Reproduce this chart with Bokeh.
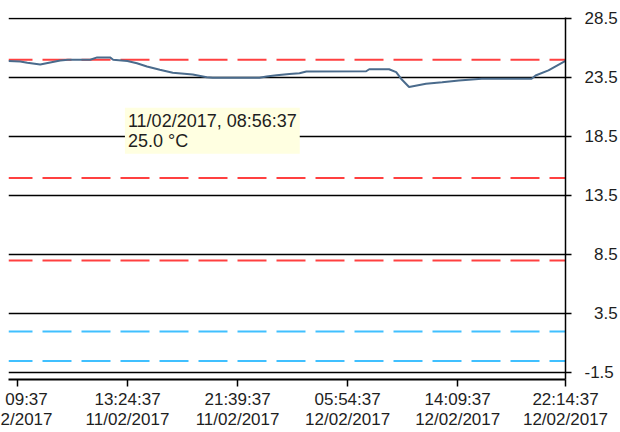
import pandas as pd
from bokeh.plotting import figure
from bokeh.models import (Range1d, FixedTicker, DatetimeTickFormatter, Span, Label)
from bokeh.embed import file_html
from bokeh.resources import INLINE

# ---- data ----
times = [
    "2017-02-11 04:29:19", "2017-02-11 05:22:00", "2017-02-11 05:54:00", "2017-02-11 06:52:00",
    "2017-02-11 07:37:00", "2017-02-11 08:22:00", "2017-02-11 08:56:37", "2017-02-11 10:37:00",
    "2017-02-11 11:08:00", "2017-02-11 12:06:00", "2017-02-11 12:20:00", "2017-02-11 13:24:00",
    "2017-02-11 14:07:00", "2017-02-11 14:52:00", "2017-02-11 15:50:00", "2017-02-11 16:48:00",
    "2017-02-11 18:18:00", "2017-02-11 19:21:00", "2017-02-11 19:48:00", "2017-02-11 23:18:00",
    "2017-02-11 23:50:00", "2017-02-12 00:35:00", "2017-02-12 01:33:00", "2017-02-12 02:18:00",
    "2017-02-12 02:49:00", "2017-02-12 07:18:00", "2017-02-12 07:32:00", "2017-02-12 09:01:00",
    "2017-02-12 09:33:00", "2017-02-12 09:55:00", "2017-02-12 10:31:00", "2017-02-12 11:47:00",
    "2017-02-12 13:00:00", "2017-02-12 14:15:00", "2017-02-12 15:58:00", "2017-02-12 19:42:00",
    "2017-02-12 20:00:00", "2017-02-12 20:58:00", "2017-02-12 22:14:37",
]
temps = [
    24.9, 24.85, 24.74, 24.6,
    24.77, 24.94, 25.0, 25.0,
    25.2, 25.2, 25.0, 24.9,
    24.7, 24.43, 24.15, 23.9,
    23.75, 23.53, 23.47, 23.47,
    23.58, 23.7, 23.8, 23.86,
    24.0, 24.03, 24.2, 24.2,
    23.95, 23.4, 22.7, 22.97,
    23.1, 23.25, 23.4, 23.4,
    23.67, 24.1, 24.9,
]
x_ticks = ["2017-02-11 05:09:37", "2017-02-11 13:24:37", "2017-02-11 21:39:37",
           "2017-02-12 05:54:37", "2017-02-12 14:09:37", "2017-02-12 22:14:37"]
first_tick_visible = "09:37\n2/2017"   # the first label is cut off by the chart edge
y_ticks = [28.5, 23.5, 18.5, 13.5, 8.5, 3.5, -1.5]
red_limits = [25.0, 15.0, 8.0]
blue_limits = [2.0, -0.5]
tooltip_time = "2017-02-11 08:56:37"
tooltip_value = 25.0
x_start, x_end = "2017-02-11 04:29:19", "2017-02-12 22:14:37"
y_start, y_end = -2.07, 28.58


def ms(s):
    return pd.Timestamp(s).value / 1e6


FONT = "Liberation Sans"
TXT = "#1e1e1e"

p = figure(width=620, height=432, x_axis_type="datetime",
           x_range=Range1d(ms(x_start), ms(x_end)), y_range=Range1d(y_start, y_end),
           y_axis_location="right", output_backend="svg", toolbar_location=None,
           min_border_left=8, min_border_right=53, min_border_top=17, min_border_bottom=53)
p.outline_line_color = None
p.background_fill_color = "white"
p.border_fill_color = "white"

p.xgrid.visible = False
p.ygrid.ticker = FixedTicker(ticks=y_ticks)
p.ygrid.grid_line_color = "black"
p.ygrid.grid_line_width = 1.5

for v in red_limits:
    p.add_layout(Span(location=v, dimension="width", line_color="#ff4040", line_width=2,
                      line_dash="29 10", line_dash_offset=5, level="underlay"))
for v in blue_limits:
    p.add_layout(Span(location=v, dimension="width", line_color="#40c0ff", line_width=2,
                      line_dash="29 10", line_dash_offset=5, level="underlay"))

p.line([ms(t) for t in times], temps, line_color="#4a6b8c", line_width=2)

# x axis
fmt = "%H:%M:%S\n%d/%m/%Y"
p.xaxis.ticker = FixedTicker(ticks=[ms(t) for t in x_ticks])
p.xaxis.formatter = DatetimeTickFormatter(
    microseconds=fmt, milliseconds=fmt, seconds=fmt, minsec=fmt, minutes=fmt,
    hourmin=fmt, hours=fmt, days=fmt, months=fmt, years=fmt)
p.xaxis.major_label_overrides = {ms(x_ticks[0]): first_tick_visible}
p.xaxis.axis_line_color = "black"
p.xaxis.axis_line_width = 2
p.xaxis.major_tick_line_color = "black"
p.xaxis.major_tick_line_width = 1.5
p.xaxis.major_tick_out = 7
p.xaxis.major_tick_in = 0
p.xaxis.minor_tick_line_color = None
p.xaxis.major_label_text_font = FONT
p.xaxis.major_label_text_font_size = "17px"
p.xaxis.major_label_text_color = TXT
p.xaxis.major_label_text_line_height = 1.06
p.xaxis.major_label_standoff = 3

# y axis (right); short labels padded with a figure space to line up on the right
def ylab(v):
    s = f"{v:.1f}"
    if len(s) == 3:
        s = "\u2007" + s
    return s

p.yaxis.ticker = FixedTicker(ticks=y_ticks)
p.yaxis.major_label_overrides = {v: ylab(v) for v in y_ticks}
p.yaxis.axis_line_color = "black"
p.yaxis.axis_line_width = 1.5
p.yaxis.major_tick_line_color = "black"
p.yaxis.major_tick_line_width = 1.5
p.yaxis.major_tick_out = 6
p.yaxis.major_tick_in = 0
p.yaxis.minor_tick_line_color = None
p.yaxis.major_label_standoff = 13
p.yaxis.major_label_text_font = FONT
p.yaxis.major_label_text_font_size = "17px"
p.yaxis.major_label_text_color = TXT

tt = pd.Timestamp(tooltip_time)
p.add_layout(Label(x=ms(tooltip_time), y=tooltip_value, x_offset=57, y_offset=-48,
                   text=tt.strftime("%d/%m/%Y, %H:%M:%S") + f"\n{tooltip_value:.1f} °C",
                   text_align="left", text_baseline="top", text_font=FONT,
                   text_font_size="18px", text_color=TXT, text_line_height=1.0,
                   background_fill_color="#ffffe1", padding=3))

open("out.html", "w").write(file_html(p, INLINE))
